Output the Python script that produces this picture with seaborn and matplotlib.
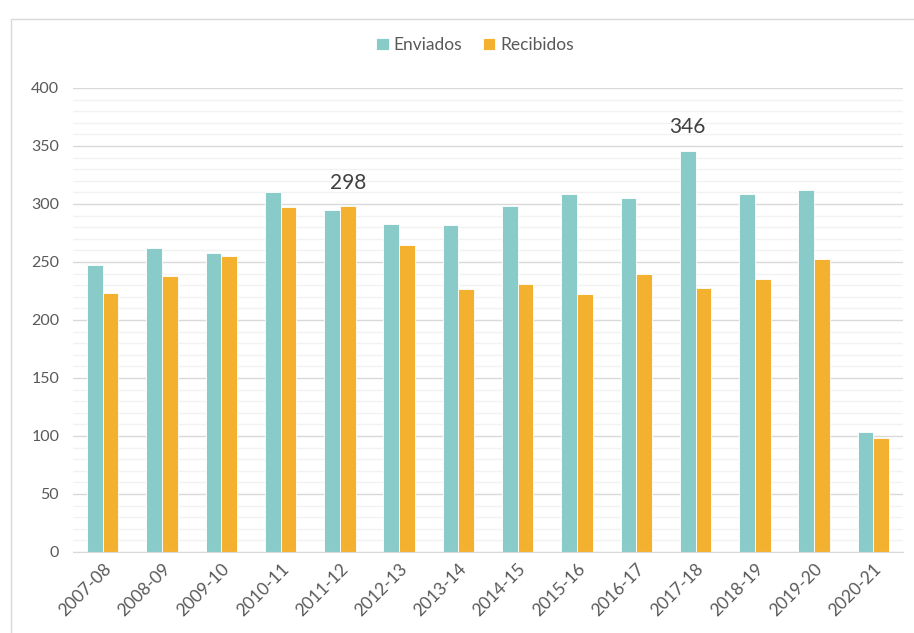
#!/usr/bin/env python3
"""
Enviados vs Recibidos por curso, bar chart.
"""

import pandas as pd
import matplotlib.pyplot as plt
import seaborn as sns
from matplotlib.patches import Rectangle
from matplotlib.ticker import MultipleLocator

# Data
cursos = ["2007-08", "2008-09", "2009-10", "2010-11", "2011-12", "2012-13", "2013-14",
          "2014-15", "2015-16", "2016-17", "2017-18", "2018-19", "2019-20", "2020-21"]
enviados = [247, 262, 258, 310, 295, 283, 282, 298, 309, 305, 346, 309, 312, 103]
recibidos = [223, 238, 255, 297, 298, 265, 227, 231, 222, 240, 228, 235, 253, 98]
series = ["Enviados", "Recibidos"]
colores = ["#88CBC9", "#F4B12F"]
y_ticks = [0, 50, 100, 150, 200, 250, 300, 350, 400]

sns.set_style("white")
plt.rcParams["font.family"] = ["Lato", "DejaVu Sans"]
text_color = "#595959"

df = pd.DataFrame({
    "curso": cursos * 2,
    "valor": enviados + recibidos,
    "serie": [series[0]] * len(cursos) + [series[1]] * len(cursos),
})

fig = plt.figure(figsize=(9.14, 6.33), dpi=100)
ax = fig.add_axes([0.080, 0.128, 0.908, 0.733])

sns.barplot(data=df, x="curso", y="valor", hue="serie", palette=colores,
            width=0.53, edgecolor="white", linewidth=0.6, saturation=1,
            ax=ax, legend=True)

# Axes styling
ax.set_ylim(0, 400)
ax.set_yticks(y_ticks)
ax.yaxis.set_minor_locator(MultipleLocator(10))
ax.grid(axis="y", which="minor", color="#F2F2F2", linewidth=1)
ax.grid(axis="y", which="major", color="#D9D9D9", linewidth=1)
ax.set_axisbelow(True)
for side in ["top", "right", "left"]:
    ax.spines[side].set_visible(False)
ax.spines["bottom"].set_color("#D9D9D9")
ax.tick_params(axis="both", which="both", length=0, colors=text_color)
ax.tick_params(axis="y", pad=10, labelsize=11.5)
ax.tick_params(axis="x", pad=6, labelsize=12.5)
ax.set_xlabel("")
ax.set_ylabel("")
plt.setp(ax.get_xticklabels(), rotation=45, ha="right", rotation_mode="anchor")

# Data labels on the two highlighted bars
for serie_idx, cat_idx in [(1, 4), (0, 10)]:
    bar = ax.containers[serie_idx][cat_idx]
    ax.annotate(f"{bar.get_height():.0f}",
                (bar.get_x() + bar.get_width() / 2, bar.get_height()),
                xytext=(0, 17), textcoords="offset points",
                ha="center", va="center", fontsize=15, color="#404040")

# Legend on top
handles, labels = ax.get_legend_handles_labels()
ax.legend_.remove()
fig.legend(handles, labels, loc="center", bbox_to_anchor=(0.52, 0.929), ncol=2,
           frameon=False, fontsize=12.5, handlelength=0.7, handleheight=0.7,
           handletextpad=0.3, columnspacing=1.2, labelcolor=text_color)

# Chart border
fig.patches.append(Rectangle((11 / 914, -0.01), 1.0, 0.99 - 13 / 633 + 0.01,
                             transform=fig.transFigure, fill=False,
                             edgecolor="#D9D9D9", linewidth=1))

fig.savefig("out.png", dpi=100)
